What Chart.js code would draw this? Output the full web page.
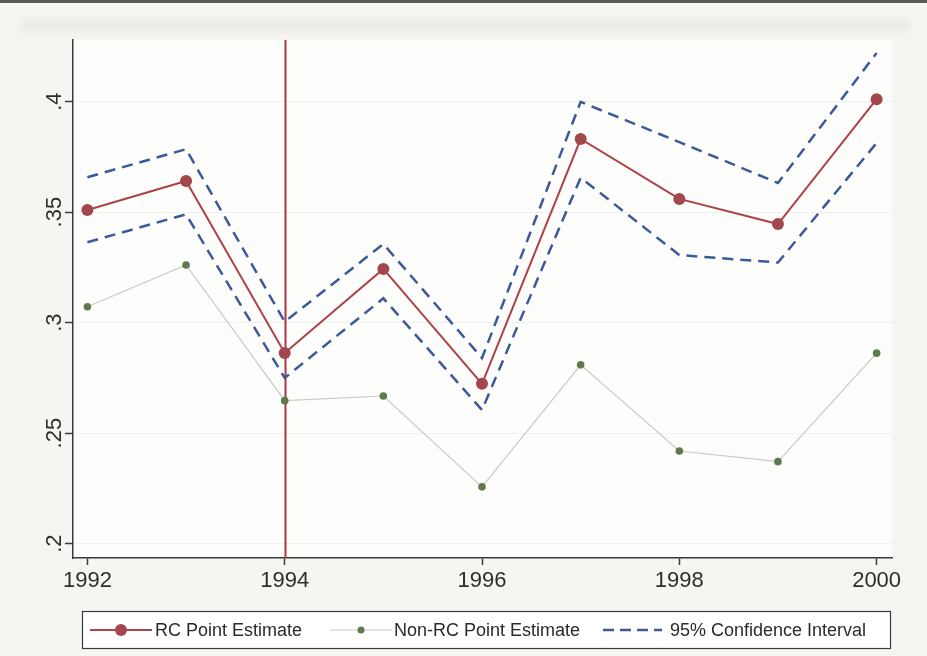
<!DOCTYPE html>
<html>
<head>
<meta charset="utf-8">
<script src="https://cdn.jsdelivr.net/npm/chart.js@4/dist/chart.umd.min.js"></script>
<style>
  html, body { margin: 0; padding: 0; background: #f5f5f1; }
  #wrap { position: relative; width: 927px; height: 656px; overflow: hidden; background: #f5f5f1; }
  #edge { position: absolute; left: 0; top: 0; width: 927px; height: 3px; background: #5a5a5a; }
  #haze { position: absolute; left: 20px; top: 19px; width: 890px; height: 12px; background: #dcdcdc; filter: blur(4px); opacity: 0.5; }
  canvas { position: absolute; left: 0; top: 0; }
</style>
</head>
<body>
<div id="wrap">
  <div id="edge"></div>
  <div id="haze"></div>
  <canvas id="chart" width="927" height="656"></canvas>
</div>
<script>
// Survey years and estimates
const years = [1992, 1993, 1994, 1995, 1996, 1997, 1998, 1999, 2000];
const rcEstimate = [0.3510, 0.3641, 0.2863, 0.3243, 0.2723, 0.3831, 0.3560, 0.3446, 0.4011];
const ciUpper = [0.3658, 0.3785, 0.3004, 0.3356, 0.2840, 0.3999, 0.3817, 0.3632, 0.4220];
const ciLower = [0.3364, 0.3490, 0.2750, 0.3110, 0.2605, 0.3656, 0.3306, 0.3272, 0.3813];
const nonRcEstimate = [0.3072, 0.3261, 0.2647, 0.2668, 0.2257, 0.2809, 0.2419, 0.2371, 0.2862];

const xTicks = [1992, 1994, 1996, 1998, 2000];
const yTicks = [0.2, 0.25, 0.3, 0.35, 0.4];
const yTickLabels = ['.2', '.25', '.3', '.35', '.4'];
const cutoffYear = 1994;

const legendLabels = ['RC Point Estimate', 'Non-RC Point Estimate', '95% Confidence Interval'];

const RED = '#ad4248';
const RED_DOT = '#a3464e';
const BLUE = '#3b5a9a';
const GRAY = '#c9c9c9';
const GREEN = '#5f7a4e';
const AXIS = '#3a3a3a';
const FONT = '"Liberation Sans", Arial, Helvetica, sans-serif';

const pts = arr => years.map((yr, i) => ({ x: yr, y: arr[i] }));

// white plot region
const plotBackground = {
  id: 'plotBackground',
  beforeDraw(chart) {
    const { ctx, chartArea: a } = chart;
    ctx.save();
    ctx.fillStyle = '#fdfdfc';
    ctx.fillRect(a.left, a.top, a.right - a.left, a.bottom - a.top);
    ctx.restore();
  }
};

// vertical marker at the cutoff year
const cutoffLine = {
  id: 'cutoffLine',
  beforeDatasetsDraw(chart) {
    const { ctx, chartArea: a, scales } = chart;
    const x = Math.round(scales.x.getPixelForValue(cutoffYear)) + 0.5;
    ctx.save();
    ctx.strokeStyle = '#b03442';
    ctx.lineWidth = 2;
    ctx.beginPath();
    ctx.moveTo(x, a.top);
    ctx.lineTo(x, a.bottom);
    ctx.stroke();
    ctx.restore();
  }
};

// rotated y tick labels
const yLabels = {
  id: 'yLabels',
  afterDraw(chart) {
    const { ctx, scales } = chart;
    ctx.save();
    ctx.fillStyle = '#2e2e2e';
    ctx.font = '22px ' + FONT;
    ctx.textAlign = 'center';
    ctx.textBaseline = 'alphabetic';
    yTicks.forEach((v, i) => {
      const y = scales.y.getPixelForValue(v);
      ctx.save();
      ctx.translate(61, y);
      ctx.rotate(-Math.PI / 2);
      ctx.fillText(yTickLabels[i], 0, 0);
      ctx.restore();
    });
    ctx.restore();
  }
};

// boxed legend under the plot
const boxLegend = {
  id: 'boxLegend',
  afterDraw(chart) {
    const { ctx } = chart;
    const top = 611, bottom = 648, left = 82, right = 890;
    const cy = 630;
    ctx.save();
    ctx.fillStyle = '#ffffff';
    ctx.fillRect(left, top, right - left, bottom - top);
    ctx.strokeStyle = AXIS;
    ctx.lineWidth = 1.2;
    ctx.strokeRect(left + 0.5, top + 0.5, right - left, bottom - top);

    ctx.font = '18px ' + FONT;
    ctx.fillStyle = '#2a2a2a';
    ctx.textBaseline = 'middle';
    ctx.textAlign = 'left';

    // RC point estimate
    ctx.strokeStyle = RED;
    ctx.lineWidth = 2;
    ctx.beginPath(); ctx.moveTo(90, cy); ctx.lineTo(152, cy); ctx.stroke();
    ctx.fillStyle = RED_DOT;
    ctx.beginPath(); ctx.arc(121, cy, 6, 0, Math.PI * 2); ctx.fill();
    ctx.fillStyle = '#2a2a2a';
    ctx.fillText(legendLabels[0], 155, cy + 1);

    // Non-RC point estimate
    ctx.strokeStyle = GRAY;
    ctx.lineWidth = 1.2;
    ctx.beginPath(); ctx.moveTo(330, cy); ctx.lineTo(392, cy); ctx.stroke();
    ctx.fillStyle = GREEN;
    ctx.beginPath(); ctx.arc(361, cy, 3.5, 0, Math.PI * 2); ctx.fill();
    ctx.fillStyle = '#2a2a2a';
    ctx.fillText(legendLabels[1], 394, cy + 1);

    // confidence interval: three dashes and a short tail piece
    ctx.strokeStyle = BLUE;
    ctx.lineWidth = 2.5;
    ctx.setLineDash([11, 6]);
    ctx.beginPath(); ctx.moveTo(603, cy); ctx.lineTo(662, cy); ctx.stroke();
    ctx.setLineDash([]);
    ctx.fillStyle = '#2a2a2a';
    ctx.fillText(legendLabels[2], 670, cy + 1);
    ctx.restore();
  }
};

new Chart(document.getElementById('chart'), {
  type: 'line',
  data: {
    datasets: [
      {
        label: legendLabels[0],
        data: pts(rcEstimate),
        borderColor: RED,
        borderWidth: 2,
        pointRadius: 6,
        pointBackgroundColor: RED_DOT,
        pointBorderWidth: 0,
        tension: 0
      },
      {
        label: legendLabels[2],
        data: pts(ciUpper),
        borderColor: BLUE,
        borderWidth: 2.5,
        borderDash: [11, 7],
        pointRadius: 0,
        tension: 0
      },
      {
        label: legendLabels[2] + ' (lower)',
        data: pts(ciLower),
        borderColor: BLUE,
        borderWidth: 2.5,
        borderDash: [11, 7],
        pointRadius: 0,
        tension: 0
      },
      {
        label: legendLabels[1],
        data: pts(nonRcEstimate),
        borderColor: GRAY,
        borderWidth: 1.2,
        pointRadius: 3.8,
        pointBackgroundColor: GREEN,
        pointBorderWidth: 0,
        tension: 0
      }
    ]
  },
  options: {
    responsive: false,
    animation: false,
    devicePixelRatio: 1,
    layout: { padding: { left: 0, top: 40, right: 35, bottom: 58 } },
    plugins: {
      legend: { display: false },
      tooltip: { enabled: false }
    },
    scales: {
      x: {
        type: 'linear',
        min: 1991.854,
        max: 2000.156,
        afterBuildTicks: s => { s.ticks = xTicks.map(v => ({ value: v })); },
        afterFit: s => { s.height = 40; },
        border: { color: AXIS, width: 1.5 },
        grid: { drawOnChartArea: false, tickLength: 7, tickColor: AXIS, tickWidth: 1.5 },
        ticks: {
          color: '#2e2e2e',
          font: { family: FONT, size: 22 },
          padding: 3,
          maxRotation: 0,
          callback: v => String(v)
        }
      },
      y: {
        type: 'linear',
        min: 0.1935,
        max: 0.4279,
        afterBuildTicks: s => { s.ticks = yTicks.map(v => ({ value: v })); },
        afterFit: s => { s.width = 73; },
        border: { color: AXIS, width: 1.5 },
        grid: { color: '#f0f0ee', lineWidth: 1, tickLength: 8, tickColor: AXIS, tickWidth: 1.5 },
        ticks: { display: false }
      }
    }
  },
  plugins: [plotBackground, cutoffLine, yLabels, boxLegend]
});
</script>
</body>
</html>
